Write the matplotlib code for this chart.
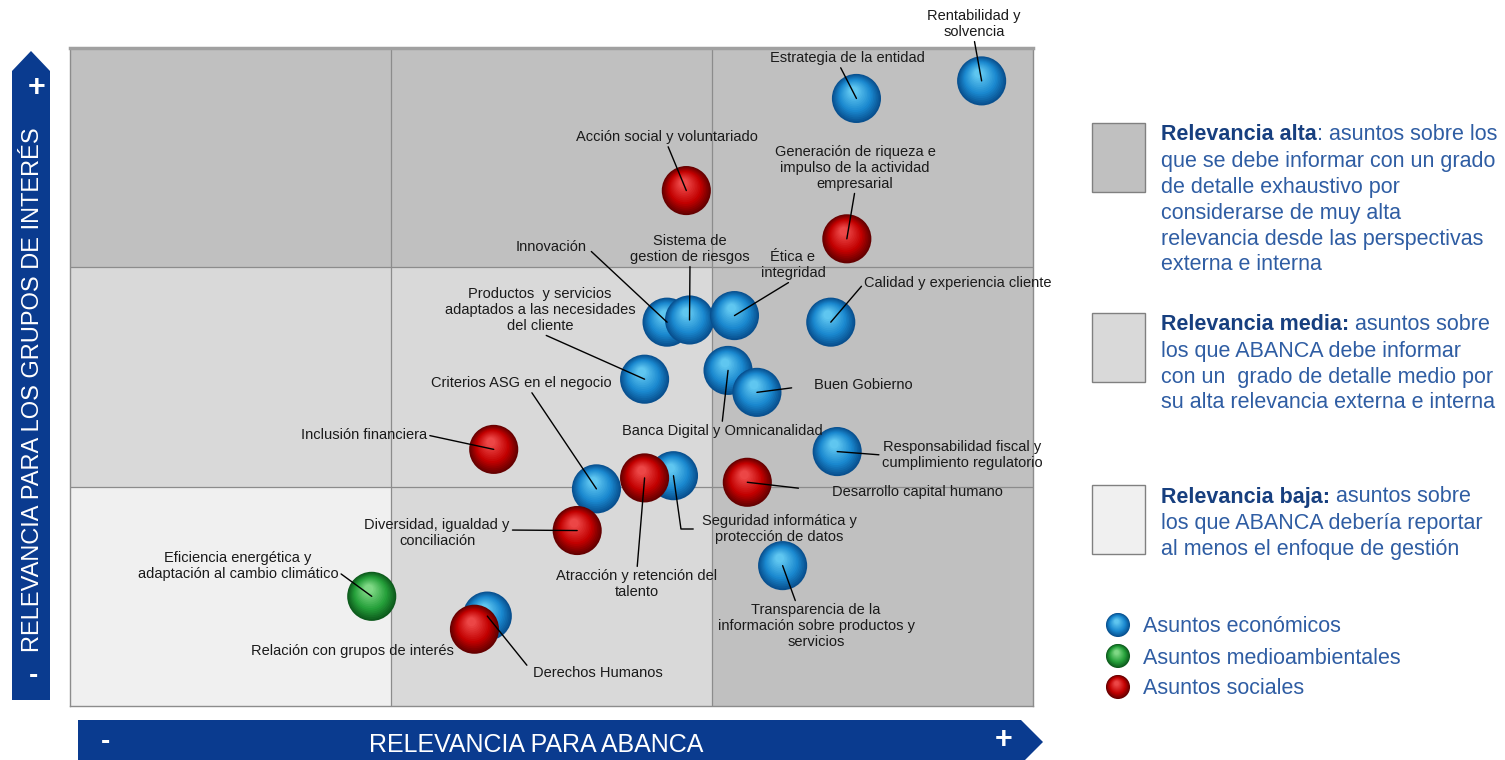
import matplotlib
matplotlib.use("Agg")
import matplotlib.pyplot as plt
import numpy as np
from matplotlib.patches import Rectangle, Polygon
from matplotlib.transforms import offset_copy
from matplotlib.colors import to_rgb

plt.rcParams['font.family'] = ['Liberation Sans', 'DejaVu Sans']

# ---- data ----
temas = [
    "Rentabilidad y\nsolvencia",
    "Estrategia de la entidad",
    "Acción social y voluntariado",
    "Generación de riqueza e\nimpulso de la actividad\nempresarial",
    "Innovación",
    "Sistema de\ngestion de riesgos",
    "Ética e\nintegridad",
    "Calidad y experiencia cliente",
    "Productos  y servicios\nadaptados a las necesidades\ndel cliente",
    "Banca Digital y Omnicanalidad",
    "Buen Gobierno",
    "Inclusión financiera",
    "Responsabilidad fiscal y\ncumplimiento regulatorio",
    "Criterios ASG en el negocio",
    "Seguridad informática y\nprotección de datos",
    "Atracción y retención del\ntalento",
    "Desarrollo capital humano",
    "Diversidad, igualdad y\nconciliación",
    "Transparencia de la\ninformación sobre productos y\nservicios",
    "Eficiencia energética y\nadaptación al cambio climático",
    "Derechos Humanos",
    "Relación con grupos de interés",
]
relevancia_abanca = [2.84, 2.45, 1.92, 2.42, 1.86, 1.93, 2.07, 2.37, 1.79, 2.05, 2.14,
                     1.32, 2.39, 1.64, 1.88, 1.79, 2.11, 1.58, 2.22, 0.94, 1.30, 1.26]
relevancia_grupos = [2.85, 2.77, 2.35, 2.13, 1.75, 1.76, 1.78, 1.75, 1.49, 1.53, 1.43,
                     1.17, 1.16, 0.99, 1.05, 1.04, 1.02, 0.80, 0.64, 0.50, 0.41, 0.35]
tipo = ['eco', 'eco', 'soc', 'soc', 'eco', 'eco', 'eco', 'eco', 'eco', 'eco', 'eco',
        'soc', 'eco', 'eco', 'eco', 'soc', 'soc', 'soc', 'eco', 'amb', 'eco', 'soc']

# zone shading, rows bottom -> top (0 baja, 1 media, 2 alta)
zonas = [[0, 1, 2],
         [1, 1, 2],
         [2, 2, 2]]

leyenda_zonas = [
    ("Relevancia alta", ": asuntos sobre los",
     ["que se debe informar con un grado", "de detalle exhaustivo por",
      "considerarse de muy alta", "relevancia desde las perspectivas",
      "externa e interna"]),
    ("Relevancia media:", " asuntos sobre",
     ["los que ABANCA debe informar", "con un  grado de detalle medio por",
      "su alta relevancia externa e interna"]),
    ("Relevancia baja:", " asuntos sobre",
     ["los que ABANCA debería reportar", "al menos el enfoque de gestión"]),
]
leyenda_tipos = [('eco', "Asuntos económicos"), ('amb', "Asuntos medioambientales"),
                 ('soc', "Asuntos sociales")]

# ---- styles / layout ----
gris_zona = {0: '#f0f0f0', 1: '#d9d9d9', 2: '#c0c0c0'}
paleta = {
    'eco': ('#08508f', '#1a88cf', '#5fc6f0'),
    'soc': ('#650000', '#c20000', '#ec4646'),
    'amb': ('#0d5a1c', '#25a03a', '#7fd885'),
}
azul_barra = '#0a3b8f'

# label positions in figure pixels (from top), arrow start on text box,
# gap before the leader starts (points), corner style
etiquetas = [
    ((974, 24), (0.5, 0), 0, None), ((847, 58), (0.45, 0), 0, None),
    ((667, 137), (0.5, 0), 0, None), ((855, 168), (0.5, 0), 0, None),
    ((551, 247), (1, 0.5), 2, None), ((690, 249), (0.5, 0), 0, None),
    ((793, 265), (0.5, 0), 0, None), ((958, 283), (0, 0.5), 0, None),
    ((540, 310), (0.5, 0), 0, None), ((722, 431), (0.5, 1), 0, None),
    ((863, 385), (0, 0.5), 14, None), ((364, 435), (1, 0.5), 0, None),
    ((962, 455), (0, 0.5), 0, None), ((521, 383), (0.55, 0), 0, None),
    ((779, 529), (0, 0.5), 4, "angle,angleA=180,angleB=-82,rad=0"),
    ((637, 584), (0.5, 1), 0, None), ((917, 492), (0, 0.5), 22, None),
    ((437, 533), (1, 0.6), 0, None), ((816, 626), (0.4, 1), 0, None),
    ((238, 566), (1, 0.3), 0, None), ((598, 673), (0, 0.5), 4, None),
    ((352, 651), None, 0, None),
]

W, H = 1505, 760
fig = plt.figure(figsize=(W / 100, H / 100), dpi=100)
fig.patch.set_facecolor('white')

capa = fig.add_axes([0, 0, 1, 1], zorder=0)
capa.set_xlim(0, W)
capa.set_ylim(H, 0)
capa.axis('off')

ax = fig.add_axes([70 / W, 1 - 706 / H, 963 / W, 658 / H], zorder=1)
ax.set_xlim(0, 3)
ax.set_ylim(0, 3)
ax.set_xticks([])
ax.set_yticks([])
for s in ax.spines.values():
    s.set_color('#8c8c8c')
    s.set_linewidth(1)
ax.spines['top'].set_linewidth(2.5)
ax.spines['top'].set_color('#a0a0a0')

for fila in range(3):
    for col in range(3):
        ax.add_patch(Rectangle((col, fila), 1, 1, facecolor=gris_zona[zonas[fila][col]],
                               edgecolor='none', zorder=0))
for v in [1, 2]:
    ax.axvline(v, color='#8c8c8c', lw=0.9, zorder=1)
    ax.axhline(v, color='#8c8c8c', lw=0.9, zorder=1)


def mezcla(c1, c2, t):
    a = np.array(to_rgb(c1))
    b = np.array(to_rgb(c2))
    return tuple(a + (b - a) * t)


def esfera(eje, x, y, clase, s, z):
    oscuro, medio, claro = paleta[clase]
    radio = np.sqrt(s) / 2
    n = 16
    for k in range(n):
        f = k / (n - 1)
        r = 1 - 0.82 * f
        if f < 0.4:
            col = mezcla(oscuro, medio, f / 0.4)
        else:
            col = mezcla(medio, claro, (f - 0.4) / 0.6)
        tr = offset_copy(eje.transData, fig=fig, x=-0.12 * radio * f,
                         y=0.3 * radio * f, units='points')
        eje.scatter([x], [y], s=s * r ** 2, color=[col], edgecolors='none',
                    transform=tr, zorder=z + k * 0.001, clip_on=False)


for i in range(len(temas)):
    esfera(ax, relevancia_abanca[i], relevancia_grupos[i], tipo[i], 1250, 3 + i * 0.05)

for i, tema in enumerate(temas):
    (px, py), rel, hueco, conexion = etiquetas[i]
    props = None
    if rel is not None:
        props = dict(arrowstyle='-', color='black', lw=1, relpos=rel,
                     shrinkA=hueco, shrinkB=0)
        if conexion:
            props['connectionstyle'] = conexion
    ax.annotate(tema, xy=(relevancia_abanca[i], relevancia_grupos[i]),
                xytext=(px, H - py), textcoords='figure pixels',
                ha='center', va='center', multialignment='center',
                fontsize=10.5, color='#1a1a1a', linespacing=1.15,
                arrowprops=props, annotation_clip=False, zorder=10)

# ---- axis arrows ----
capa.add_patch(Polygon([(12, 700), (12, 71), (31, 51), (50, 71), (50, 700)],
                       closed=True, facecolor=azul_barra, edgecolor='none'))
capa.add_patch(Polygon([(78, 720), (1021, 720), (1043, 742), (1021, 764), (78, 764)],
                       closed=True, facecolor=azul_barra, edgecolor='none'))
capa.text(33, 390, "RELEVANCIA PARA LOS GRUPOS DE INTERÉS", rotation=90,
          color='white', fontsize=17, ha='center', va='center')
capa.text(536, 745, "RELEVANCIA PARA ABANCA", color='white', fontsize=18,
          ha='center', va='center')
capa.text(37, 88, "+", color='white', fontsize=22, fontweight='bold', ha='center', va='center')
capa.text(33, 676, "-", color='white', fontsize=20, fontweight='bold', ha='center', va='center')
capa.text(1004, 740, "+", color='white', fontsize=22, fontweight='bold', ha='center', va='center')
capa.text(106, 742, "-", color='white', fontsize=20, fontweight='bold', ha='center', va='center')

# ---- legend ----
azul_titulo = '#173f7f'
azul_texto = '#2f5da3'
cajas_y = [123, 313, 485]
for (nivel, (titulo, resto, lineas)), y0 in zip(enumerate(leyenda_zonas), cajas_y):
    color = gris_zona[2 - nivel]
    capa.add_patch(Rectangle((1092, y0), 53, 69, facecolor=color,
                             edgecolor='#808080', lw=1))
    yl = y0 + 12
    t = capa.text(1161, yl, titulo, fontsize=15.5, fontweight='bold',
                  color=azul_titulo, ha='left', va='center')
    capa.annotate(resto, xy=(1, 0.5), xycoords=t, fontsize=15.5, color=azul_texto,
                  ha='left', va='center')
    for j, linea in enumerate(lineas):
        capa.text(1161, yl + 26 * (j + 1), linea, fontsize=15.5, color=azul_texto,
                  ha='left', va='center')

for j, (clase, nombre) in enumerate(leyenda_tipos):
    yy = 625 + 31 * j
    esfera(capa, 1118, yy, clase, 300, 5)
    capa.text(1143, yy + 2, nombre, fontsize=15.5, color=azul_texto,
              ha='left', va='center')

fig.savefig("out.png", dpi=100)
